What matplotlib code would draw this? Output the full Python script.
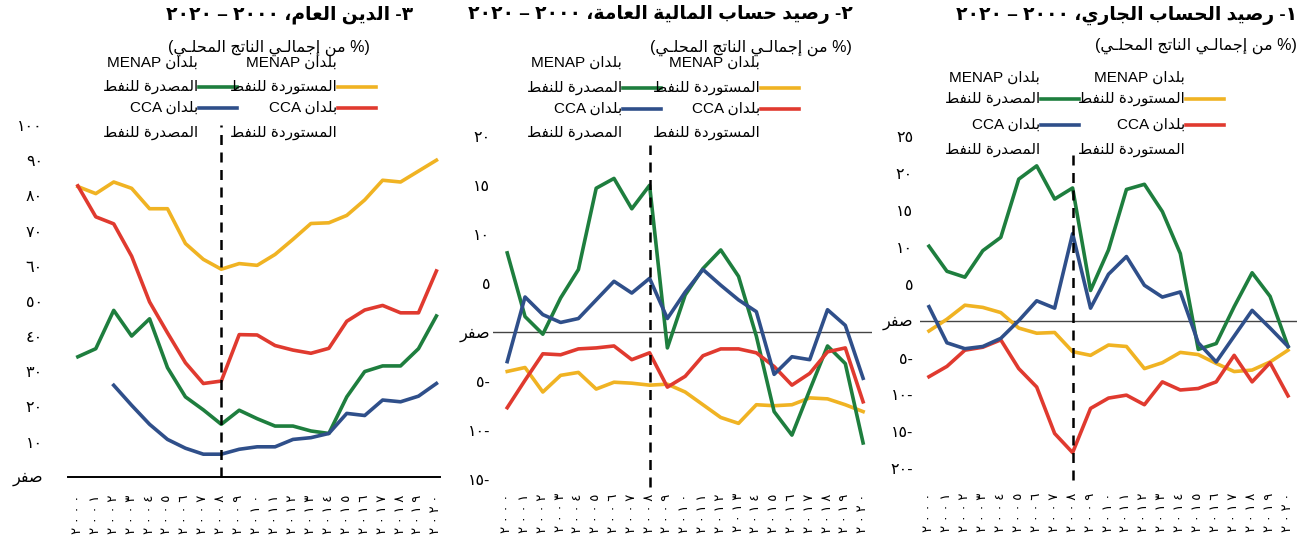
import matplotlib
matplotlib.use('Agg')
import matplotlib.pyplot as plt
from matplotlib.lines import Line2D
import numpy as np

W, H = 1311, 550
plt.rcParams['font.family'] = ['Liberation Sans', 'DejaVu Sans']

# ---------------- data ----------------
years = ['٢٠٠٠', '٢٠٠١', '٢٠٠٢', '٢٠٠٣', '٢٠٠٤', '٢٠٠٥', '٢٠٠٦', '٢٠٠٧',
         '٢٠٠٨', '٢٠٠٩', '٢٠١٠', '٢٠١١', '٢٠١٢', '٢٠١٣', '٢٠١٤', '٢٠١٥',
         '٢٠١٦', '٢٠١٧', '٢٠١٨', '٢٠١٩', '٢٠٢٠']
break_year = '٢٠٠٨'

series_names = ['بلدان MENAP\nالمستوردة للنفط',
                'بلدان MENAP\nالمصدرة للنفط',
                'بلدان CCA\nالمستوردة للنفط',
                'بلدان CCA\nالمصدرة للنفط']
series_colors = ['#F0B323', '#1E7E3E', '#E03A2F', '#2F4F8A']

titles = ['١- رصيد الحساب الجاري، ٢٠٠٠ – ٢٠٢٠',
          '٢- رصيد حساب المالية العامة، ٢٠٠٠ – ٢٠٢٠',
          '٣- الدين العام، ٢٠٠٠ – ٢٠٢٠']
subtitle = '(% من إجمالـي الناتج المحلـي)'

# Panel 1: current account balance
ca_menap_imp = [-1.4, 0.2, 2.1, 1.8, 1.1, -1.0, -1.7, -1.6, -4.2, -4.7, -3.3,
                -3.5, -6.5, -5.7, -4.3, -4.6, -5.8, -6.9, -6.7, -5.6, -4.0]
ca_menap_exp = [10.1, 6.7, 5.9, 9.5, 11.3, 19.2, 21.0, 16.5, 18.0, 4.1, 9.6,
                17.8, 18.5, 14.8, 9.1, -3.9, -3.1, 1.9, 6.5, 3.3, -3.5]
ca_cca_imp = [-7.6, -6.2, -4.0, -3.6, -2.6, -6.5, -9.0, -15.3, -17.9, -11.9, -10.5,
              -10.1, -11.4, -8.3, -9.4, -9.2, -8.3, -4.7, -8.3, -5.7, -10.2]
ca_cca_exp = [1.9, -3.0, -3.8, -3.5, -2.4, 0.0, 2.7, 1.7, 11.8, 1.7, 6.3,
              8.7, 4.8, 3.2, 3.9, -3.0, -5.6, -2.1, 1.4, -1.0, -3.5]
ca_yticks = [25, 20, 15, 10, 5, 0, -5, -10, -15, -20]
ca_ylabels = ['٢٥', '٢٠', '١٥', '١٠', '٥', 'صفر', '-٥', '-١٠', '-١٥', '-٢٠']

# Panel 2: fiscal balance
fb_menap_imp = [-4.0, -3.6, -6.1, -4.4, -4.1, -5.8, -5.1, -5.2, -5.4, -5.3, -6.1,
                -7.4, -8.7, -9.3, -7.4, -7.5, -7.4, -6.7, -6.8, -7.4, -8.1]
fb_menap_exp = [8.1, 1.6, -0.2, 3.5, 6.4, 14.7, 15.7, 12.6, 15.0, -1.6, 3.8,
                6.5, 8.4, 5.7, -0.4, -8.1, -10.5, -5.9, -1.4, -3.2, -11.3]
fb_cca_imp = [-7.7, -4.9, -2.2, -2.3, -1.7, -1.6, -1.4, -2.8, -2.1, -5.6, -4.5,
              -2.4, -1.7, -1.7, -2.1, -3.5, -5.4, -4.2, -2.0, -1.6, -7.1]
fb_cca_exp = [-3.0, 3.6, 1.8, 1.0, 1.4, 3.3, 5.2, 4.0, 5.5, 1.4, 4.1,
              6.4, 4.8, 3.3, 2.1, -4.3, -2.5, -2.8, 2.3, 0.7, -4.7]
fb_yticks = [20, 15, 10, 5, 0, -5, -10, -15]
fb_ylabels = ['٢٠', '١٥', '١٠', '٥', 'صفر', '-٥', '-١٠', '-١٥']

# Panel 3: public debt
debt_menap_imp = [82.5, 80.5, 83.8, 82.0, 76.2, 76.2, 66.3, 61.8, 59.0, 60.6, 60.1,
                  63.2, 67.5, 72.0, 72.2, 74.3, 78.7, 84.3, 83.8, 86.9, 90.0]
debt_menap_exp = [34.1, 36.4, 47.3, 40.0, 44.9, 31.0, 22.7, 19.0, 14.9, 18.9, 16.5,
                  14.4, 14.4, 13.0, 12.3, 22.7, 29.9, 31.5, 31.5, 36.4, 45.7]
debt_cca_imp = [82.7, 73.9, 71.9, 62.7, 49.7, 40.9, 32.4, 26.5, 27.2, 40.4, 40.3,
                37.3, 36.0, 35.1, 36.5, 44.2, 47.4, 48.7, 46.6, 46.6, 58.5]
debt_cca_exp = [np.nan, np.nan, 26.0, 20.3, 14.9, 10.6, 8.1, 6.4, 6.4, 7.8, 8.5,
                8.5, 10.6, 11.1, 12.3, 18.0, 17.4, 21.8, 21.3, 22.9, 26.5]
debt_yticks = [100, 90, 80, 70, 60, 50, 40, 30, 20, 10, 0]
debt_ylabels = ['١٠٠', '٩٠', '٨٠', '٧٠', '٦٠', '٥٠', '٤٠', '٣٠', '٢٠', '١٠', 'صفر']

# ---------------- minimal Arabic shaping + bidi ----------------
FORMS = {
    '\u0627': ('\uFE8D', '\uFE8E', None, None),
    '\u0625': ('\uFE87', '\uFE88', None, None),
    '\u0623': ('\uFE83', '\uFE84', None, None),
    '\u0628': ('\uFE8F', '\uFE90', '\uFE91', '\uFE92'),
    '\u0629': ('\uFE93', '\uFE94', None, None),
    '\u062A': ('\uFE95', '\uFE96', '\uFE97', '\uFE98'),
    '\u062C': ('\uFE9D', '\uFE9E', '\uFE9F', '\uFEA0'),
    '\u062D': ('\uFEA1', '\uFEA2', '\uFEA3', '\uFEA4'),
    '\u062F': ('\uFEA9', '\uFEAA', None, None),
    '\u0631': ('\uFEAD', '\uFEAE', None, None),
    '\u0633': ('\uFEB1', '\uFEB2', '\uFEB3', '\uFEB4'),
    '\u0635': ('\uFEB9', '\uFEBA', '\uFEBB', '\uFEBC'),
    '\u0637': ('\uFEC1', '\uFEC2', '\uFEC3', '\uFEC4'),
    '\u0639': ('\uFEC9', '\uFECA', '\uFECB', '\uFECC'),
    '\u0641': ('\uFED1', '\uFED2', '\uFED3', '\uFED4'),
    '\u0644': ('\uFEDD', '\uFEDE', '\uFEDF', '\uFEE0'),
    '\u0645': ('\uFEE1', '\uFEE2', '\uFEE3', '\uFEE4'),
    '\u0646': ('\uFEE5', '\uFEE6', '\uFEE7', '\uFEE8'),
    '\u0648': ('\uFEED', '\uFEEE', None, None),
    '\u064A': ('\uFEF1', '\uFEF2', '\uFEF3', '\uFEF4'),
}
TATWEEL = '\u0640'


def _joins_next(c):
    return c == TATWEEL or (c in FORMS and FORMS[c][2] is not None)


def _is_joining(c):
    return c == TATWEEL or c in FORMS


def _shape(s):
    res = []
    n = len(s)
    i = 0
    while i < n:
        c = s[i]
        prev = s[i - 1] if i > 0 else ''
        if c == '\u0644' and i + 1 < n and s[i + 1] in ('\u0627', '\u0625'):
            cp = _joins_next(prev)
            if s[i + 1] == '\u0627':
                res.append('\uFEFC' if cp else '\uFEFB')
            else:
                res.append('\uFEFA' if cp else '\uFEF9')
            i += 2
            continue
        if c in FORMS:
            nxt = s[i + 1] if i + 1 < n else ''
            iso, fin, ini, med = FORMS[c]
            cp = _joins_next(prev)
            cn = ini is not None and _is_joining(nxt)
            if cp and cn:
                res.append(med)
            elif cp:
                res.append(fin)
            elif cn:
                res.append(ini)
            else:
                res.append(iso)
        else:
            res.append(c)
        i += 1
    return ''.join(res)


def _ctype(c):
    o = ord(c)
    if '0' <= c <= '9' or 0x660 <= o <= 0x669:
        return 'N'
    if c == '\u060C':
        return 'O'
    if 0x590 <= o <= 0x8FF or 0xFB1D <= o <= 0xFDFF or 0xFE70 <= o <= 0xFEFF:
        return 'R'
    if c.isalpha():
        return 'L'
    return 'O'


def _bidi_line(s):
    s = _shape(s)
    types = [_ctype(c) for c in s]
    strong = ['R' if t == 'N' else t for t in types]
    n = len(s)
    res = []
    for i, t in enumerate(strong):
        if t != 'O':
            res.append(t)
            continue
        p = 'R'
        for j in range(i - 1, -1, -1):
            if strong[j] != 'O':
                p = strong[j]
                break
        q = 'R'
        for j in range(i + 1, n):
            if strong[j] != 'O':
                q = strong[j]
                break
        res.append('L' if (p == 'L' and q == 'L') else 'R')
    levels = [2 if (types[i] in ('L', 'N') or res[i] == 'L') else 1 for i in range(n)]
    seq = list(zip(s, levels))[::-1]
    out = []
    i = 0
    while i < len(seq):
        if seq[i][1] == 2:
            j = i
            while j < len(seq) and seq[j][1] == 2:
                j += 1
            out.extend(c for c, _ in seq[i:j][::-1])
            i = j
        else:
            c = seq[i][0]
            out.append({'(': ')', ')': '('}.get(c, c))
            i += 1
    return ''.join(out)


def ar(s):
    return '\n'.join(_bidi_line(line) for line in s.split('\n'))


# ---------------- figure ----------------
fig = plt.figure(figsize=(W / 100, H / 100), dpi=100)


def px_axes(left, top, right, bottom):
    return fig.add_axes([left / W, 1 - bottom / H, (right - left) / W, (bottom - top) / H])


def fx(x):
    return x / W


def fy(y):
    return 1 - y / H


x = np.arange(len(years))
xb = years.index(break_year)

panels = [
    dict(box=(920, 129, 1297, 475.5), xlim=(-0.5, 20.5), ylim=(-21, 26),
         data=[ca_menap_imp, ca_menap_exp, ca_cca_imp, ca_cca_exp],
         yticks=ca_yticks, ylabels=ca_ylabels, ypad=5, xpad=12.5,
         dash=(-21.6, 22.9), zero='thin',
         title=titles[0], title_x=1297, sub_x=1297, sub_y=46,
         leg_xr=1185, leg_xl=1040, leg_rows=(78, 99, 125, 150)),
    dict(box=(493, 126.5, 872, 489), xlim=(-0.8, 20.5), ylim=(-16, 21),
         data=[fb_menap_imp, fb_menap_exp, fb_cca_imp, fb_cca_exp],
         yticks=fb_yticks, ylabels=fb_ylabels, ypad=2, xpad=3,
         dash=(-15.8, 19.1), zero='thin',
         title=titles[1], title_x=853, sub_x=852, sub_y=48,
         leg_xr=760, leg_xl=622, leg_rows=(63, 88, 109, 133)),
    dict(box=(68, 118, 440, 476.7), xlim=(-0.55, 20.2), ylim=(0, 102),
         data=[debt_menap_imp, debt_menap_exp, debt_cca_imp, debt_cca_exp],
         yticks=debt_yticks, ylabels=debt_ylabels, ypad=18, xpad=13,
         dash=(0, 100), zero='axis',
         title=titles[2], title_x=413, sub_x=370, sub_y=48,
         leg_xr=337, leg_xl=198, leg_rows=(63, 87, 108, 133)),
]

xlabels = [' '.join(y) for y in years]

for p in panels:
    ax = px_axes(*p['box'])
    ax.set_xlim(*p['xlim'])
    ax.set_ylim(*p['ylim'])
    for s in ax.spines.values():
        s.set_visible(False)
    if p['zero'] == 'thin':
        ax.axhline(0, color='#444444', lw=1.0, zorder=1)
    else:
        ax.axhline(0, color='black', lw=1.4, zorder=1, clip_on=False)
    ax.vlines(xb, p['dash'][0], p['dash'][1], colors='black', lw=1.8,
              linestyles=(0, (4, 3)), zorder=5, clip_on=False)
    for vals, col in zip(p['data'], series_colors):
        ax.plot(x, vals, color=col, lw=2.6, zorder=3, clip_on=False)
    ax.set_yticks(p['yticks'])
    ax.set_yticklabels([ar(l) for l in p['ylabels']], fontsize=11.5)
    ax.tick_params(axis='y', length=0, pad=p['ypad'])
    ax.set_xticks(x)
    ax.set_xticklabels(xlabels, rotation=90, fontsize=9.5, va='top', ha='center')
    ax.tick_params(axis='x', length=0, pad=p['xpad'])

    # titles
    fig.text(fx(p['title_x']), fy(15), ar(p['title']), ha='right', va='center',
             fontsize=13.5, fontweight='bold')
    fig.text(fx(p['sub_x']), fy(p['sub_y']), ar(subtitle), ha='right', va='center',
             fontsize=11.5)

    # legend (2 columns x 2 entries, RTL text to the left of each handle)
    r1, r2, r3, r4 = p['leg_rows']
    entries = [(0, p['leg_xr'], (r1, r2), r2),
               (1, p['leg_xl'], (r1, r2), r2),
               (2, p['leg_xr'], (r3, r4), r3),
               (3, p['leg_xl'], (r3, r4), r3)]
    for idx, xr, rows, hy in entries:
        lines = series_names[idx].split('\n')
        for line, ry in zip(lines, rows):
            fig.text(fx(xr), fy(ry), ar(line), ha='right', va='center', fontsize=11)
        fig.add_artist(Line2D([fx(xr + 1), fx(xr + 39)], [fy(hy), fy(hy)],
                              color=series_colors[idx], lw=2.6,
                              transform=fig.transFigure))

fig.savefig('out.png', dpi=100)
